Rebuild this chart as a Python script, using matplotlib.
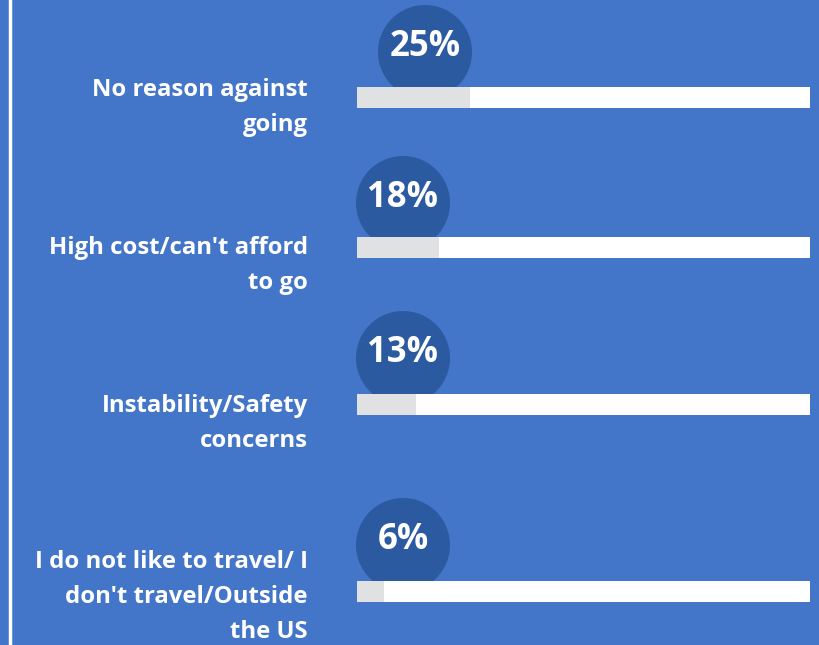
import matplotlib.pyplot as plt
from matplotlib.patches import Ellipse

labels = ["No reason against\ngoing",
          "High cost/can't afford\nto go",
          "Instability/Safety\nconcerns",
          "I do not like to travel/ I\ndon't travel/Outside\nthe US"]
values = [25, 18, 13, 6]

# layout (pixels from top) for each row
row_y = [97, 247, 404, 591]
label_top = [78, 236, 394, 550]
circle_dx = [68, 46, 46, 46]
circle_dy = [-45, -44, -46, -46]

BG = "#4375C8"
CIRCLE = "#2C5AA0"
FILL = "#DFE1E3"
FONT = "Open Sans"

W, H = 820, 645
x0, x1 = 357, 810
px = (x1 - x0) / 100.0  # pixels per percent

fig = plt.figure(figsize=(W / 100, H / 100), dpi=100)
fig.patch.set_facecolor(BG)
ax = fig.add_axes([0, 0, 1, 1])
ax.set_facecolor(BG)
ax.set_xlim(-x0 / px, (W - x0) / px)
ax.set_ylim(H, 0)
ax.axis("off")

# white rule on the left edge
ax.plot([(10 - x0) / px] * 2, [0, H], color="white", lw=2.5)

for i in range(len(values)):
    y = row_y[i]
    # percent bubble, partly hidden behind the bar
    cx = circle_dx[i] / px
    cy = y + circle_dy[i]
    ax.add_patch(Ellipse((cx, cy), 94 / px, 94, facecolor=CIRCLE,
                         edgecolor="none", zorder=1))
    ax.text(cx, cy - 5, "{}%".format(values[i]), color="white", fontsize=25,
            fontweight="bold", family=FONT, ha="center", va="center", zorder=4)

bars_bg = ax.barh(row_y, [100] * len(values), height=21, left=0,
                  color="white", zorder=2)
bars = ax.barh(row_y, values, height=21, left=0, color=FILL, zorder=3)

for i in range(len(labels)):
    ax.text((308 - x0) / px, label_top[i], labels[i], color="white",
            fontsize=17.2, fontweight="bold", family=FONT, ha="right",
            va="top", linespacing=1.62, multialignment="right")

fig.savefig("out.png", dpi=100, facecolor=BG)
